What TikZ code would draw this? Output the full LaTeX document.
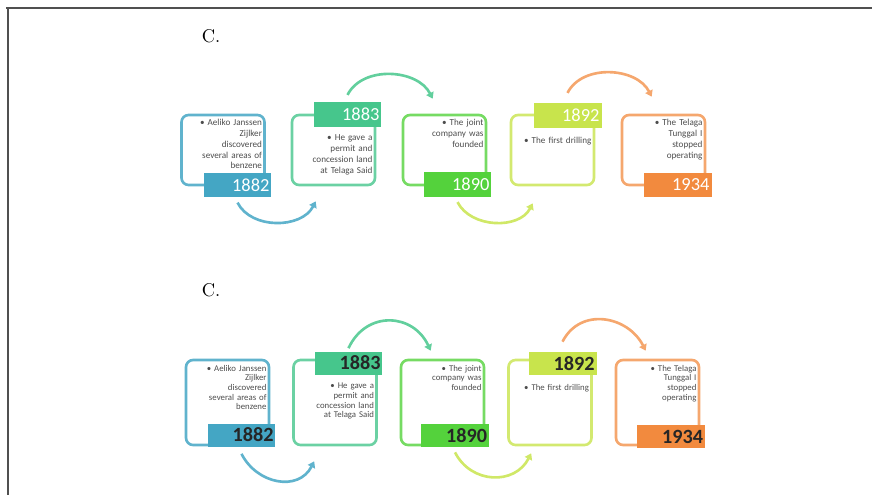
\documentclass[tikz,border=0pt]{standalone}
\usepackage{fontspec}
\newfontfamily\smartfont{Carlito}
\usepackage{tikz}
\usetikzlibrary{arrows.meta}
\usepackage{xcolor}
\definecolor{ColA}{RGB}{68,166,196}
\definecolor{ColB}{RGB}{70,198,140}
\definecolor{ColC}{RGB}{84,210,60}
\definecolor{ColD}{RGB}{200,228,76}
\definecolor{ColE}{RGB}{242,138,62}
\definecolor{ColFrame}{RGB}{80,80,80}
\tikzstyle{Frame}=[ColFrame,line width=1.2pt]
\tikzstyle{Tag}=[font=\fontsize{10.5}{12}\selectfont,inner sep=0pt]
\tikzstyle{BoxOut}=[draw,line width=1.5pt,rounded corners=4pt,minimum width=1.66cm,
inner sep=0pt]
\tikzstyle{NoteA}=[font=\smartfont\fontsize{5.2}{6.2}\selectfont,text width=1.45cm,align=right,
inner sep=0pt,anchor=north east,text=black!70]
\tikzstyle{NoteB}=[NoteA,font=\smartfont\fontsize{5}{5.5}\selectfont]
\tikzstyle{YearA}=[minimum width=1.36cm,minimum height=0.49cm,inner sep=0pt,text width=1.28cm,
align=right,font=\smartfont\fontsize{10.5}{10.5}\selectfont,text=white]
\tikzstyle{YearB}=[YearA,minimum height=0.46cm,font=\smartfont\bfseries\fontsize{11.5}{11.5}\selectfont,
text=black!85]
\tikzstyle{Turn}=[line width=1.5pt,-{Triangle[length=3.5pt,width=4.5pt]}]

\begin{document}
\begin{tikzpicture}[x=0.02cm,y=-0.02cm]
        \useasboundingbox(0,0)rectangle(872,495);
        \draw[Frame](6,8)--(872,8);
        \draw[Frame](8,8)--(8,495);
        % first timeline
        \node[Tag](c1)at(211,36){C.};
        \node[BoxOut,draw=ColA!85,minimum height=1.4cm](o1)at(223,150){};
        \node[BoxOut,draw=ColB!80,minimum height=1.4cm](o2)at(333.5,150){};
        \node[BoxOut,draw=ColC!80,minimum height=1.4cm](o3)at(444.5,150){};
        \node[BoxOut,draw=ColD!80,minimum height=1.4cm](o4)at(552.5,150){};
        \node[BoxOut,draw=ColE!75,minimum height=1.4cm](o5)at(663.5,150){};
        \node[NoteA](t1)at([xshift=-0.07cm,yshift=-0.1cm]o1.north east){\textbullet{} Aeliko Janssen\\Zijlker\\discovered\\several areas of\\benzene};
        \node[NoteA](t2)at([xshift=-0.07cm,yshift=-0.42cm]o2.north east){\textbullet{} He gave a\\permit and\\concession land\\at Telaga Said};
        \node[NoteA](t3)at([xshift=-0.07cm,yshift=-0.1cm]o3.north east){\textbullet{} The joint\\company was\\founded};
        \node[NoteA](t4)at([xshift=-0.07cm,yshift=-0.46cm]o4.north east){\textbullet{} The first drilling};
        \node[NoteA](t5)at([xshift=-0.07cm,yshift=-0.1cm]o5.north east){\textbullet{} The Telaga\\Tunggal I\\stopped\\operating};
        \node[YearA,fill=ColA](y1)at(237.5,185){1882};
        \node[YearA,fill=ColB](y2)at(347.5,114.5){1883};
        \node[YearA,fill=ColC](y3)at(457.5,184.5){1890};
        \node[YearA,fill=ColD](y4)at(567.5,115.5){1892};
        \node[YearA,fill=ColE](y5)at(677.5,185){1934};
        \draw[Turn,ColA!85]([yshift=-0.1cm]y1.south)to[out=-63,in=-117]([xshift=0.5cm,yshift=-0.3cm]o2.south west);
        \draw[Turn,ColB!85]([yshift=0.14cm]y2.north)to[out=63,in=117]([xshift=0.62cm,yshift=0.3cm]o3.north west);
        \draw[Turn,ColD!85]([yshift=-0.1cm]y3.south)to[out=-63,in=-117]([xshift=0.46cm,yshift=-0.34cm]o4.south west);
        \draw[Turn,ColE!75]([yshift=0.2cm]y4.north)to[out=63,in=117]([xshift=0.62cm,yshift=0.34cm]o5.north west);
        % second timeline
        \node[Tag](c2)at(211,290){C.};
        \node[BoxOut,draw=ColA!85,minimum height=1.7cm](p1)at(227.5,402.5){};
        \node[BoxOut,draw=ColB!80,minimum height=1.7cm](p2)at(335,402.5){};
        \node[BoxOut,draw=ColC!80,minimum height=1.7cm](p3)at(442.5,402.5){};
        \node[BoxOut,draw=ColD!80,minimum height=1.7cm](p4)at(550,402.5){};
        \node[BoxOut,draw=ColE!75,minimum height=1.7cm](p5)at(657.5,402.5){};
        \node[NoteB](u1)at([xshift=-0.07cm,yshift=-0.12cm]p1.north east){\textbullet{} Aeliko Janssen\\Zijlker\\discovered\\several areas of\\benzene};
        \node[NoteB](u2)at([xshift=-0.07cm,yshift=-0.48cm]p2.north east){\textbullet{} He gave a\\permit and\\concession land\\at Telaga Said};
        \node[NoteB](u3)at([xshift=-0.07cm,yshift=-0.12cm]p3.north east){\textbullet{} The joint\\company was\\founded};
        \node[NoteB](u4)at([xshift=-0.07cm,yshift=-0.5cm]p4.north east){\textbullet{} The first drilling};
        \node[NoteB](u5)at([xshift=-0.07cm,yshift=-0.12cm]p5.north east){\textbullet{} The Telaga\\Tunggal I\\stopped\\operating};
        \node[YearB,fill=ColA](z1)at(241.5,435){1882};
        \node[YearB,fill=ColB](z2)at(348.5,363){1883};
        \node[YearB,fill=ColC](z3)at(455,435.5){1890};
        \node[YearB,fill=ColD](z4)at(562.5,363.5){1892};
        \node[YearB,fill=ColE](z5)at(671,436.5){1934};
        \draw[Turn,ColA!85]([yshift=-0.14cm]z1.south)to[out=-63,in=-117,looseness=1.2]([xshift=0.44cm,yshift=-0.3cm]p2.south west);
        \draw[Turn,ColB!85]([yshift=0.06cm]z2.north)to[out=65,in=115,looseness=1.3]([xshift=0.62cm,yshift=0.16cm]p3.north west);
        \draw[Turn,ColD!85]([yshift=-0.1cm]z3.south)to[out=-63,in=-117,looseness=1.2]([xshift=0.48cm,yshift=-0.14cm]p4.south west);
        \draw[Turn,ColE!75]([yshift=0.2cm]z4.north)to[out=63,in=117,looseness=1.2]([xshift=0.62cm,yshift=0.16cm]p5.north west);
    \end{tikzpicture}
\end{document}
